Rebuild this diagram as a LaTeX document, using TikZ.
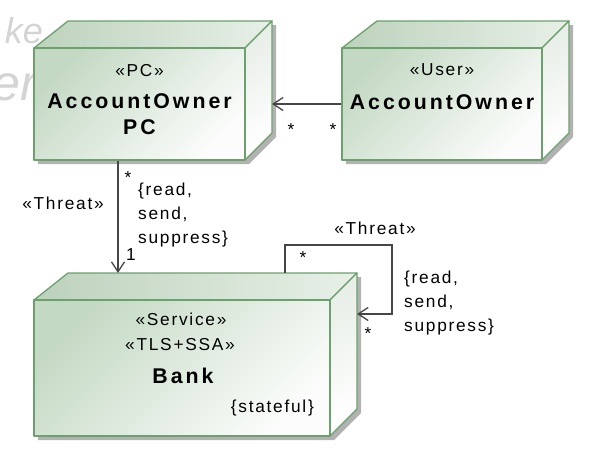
\documentclass[tikz,border=0pt]{standalone}
\usepackage{fontspec}
\setmainfont{Liberation Sans}
\newfontfamily\labfont[LetterSpace=10]{Liberation Sans}
\newfontfamily\namefont[LetterSpace=14]{Liberation Sans}
\newfontfamily\wmfont{Liberation Sans}
\usetikzlibrary{arrows.meta,calc}
\definecolor{nodeborder}{RGB}{108,160,108}
\definecolor{frontA}{RGB}{196,217,196}
\definecolor{frontB}{RGB}{251,252,251}
\definecolor{topA}{RGB}{188,210,188}
\definecolor{topB}{RGB}{232,240,232}
\definecolor{rightA}{RGB}{232,238,232}
\definecolor{rightB}{RGB}{255,255,255}
\definecolor{conncol}{RGB}{70,70,70}
\definecolor{shadowc}{RGB}{178,178,178}
\definecolor{wmcol}{RGB}{212,212,212}
\tikzset{
  face/.style={draw=nodeborder, line width=1.3pt, line join=round},
  frontshade/.style={top color=frontA, bottom color=frontB, shading angle=45},
  lbl/.style={inner sep=0pt, font=\labfont\fontsize{17.3}{24}\selectfont, text=black},
  nm/.style={inner sep=0pt, font=\namefont\bfseries\fontsize{21.3}{26}\selectfont, text=black},
  conn/.style={draw=conncol, line width=1.3pt},
  arr/.style={-{Straight Barb[length=10pt,width=13pt]}},
}
% #1 name, #2 x1, #3 y1, #4 x2, #5 y2, #6 left depth
\newcommand\deploybox[6]{%
  \fill[shadowc] ({#2+4},{#5+4}) -- ({#2+4},{#3+4}) -- ({#2+#6+4},{#3-23}) -- ({#4+31},{#3-23}) -- ({#4+31},{#5-23}) -- ({#4+4},{#5+4}) -- cycle;
  \draw[face, left color=topA, right color=topB] (#2,#3) -- ({#2+#6},{#3-27}) -- ({#4+27},{#3-27}) -- (#4,#3) -- cycle;
  \draw[face, top color=rightA, bottom color=rightB, shading angle=30] (#4,#3) -- ({#4+27},{#3-27}) -- ({#4+27},{#5-27}) -- (#4,#5) -- cycle;
  \node[face, frontshade, inner sep=0pt, minimum width={(#4-#2)*1pt}, minimum height={(#5-#3)*1pt}] (#1) at ({(#2+#4)/2},{(#3+#5)/2}) {};
  \coordinate (#1btr) at ({#4+27},{#3-27});
}
\begin{document}
\begin{tikzpicture}[x=1pt,y=-1pt]
\useasboundingbox (0,0) rectangle (590,456);
% watermark fragments
\node[inner sep=0pt, anchor=base east, font=\wmfont\itshape\fontsize{36}{36}\selectfont, text=wmcol] (wmA) at (43,43) {ke};
\node[inner sep=0pt, anchor=base east, font=\wmfont\itshape\fontsize{50}{50}\selectfont, text=wmcol] (wmB) at (37,100) {er};
% nodes
\deploybox{pc}{34}{48}{245}{160}{34}
\deploybox{user}{342}{48}{542}{160}{35}
\deploybox{bank}{34}{300}{330}{436}{34}
% node texts
\node[lbl, anchor=base] (pcst) at (139.5,76) {«PC»};
\node[nm, anchor=base] (pcn1) at (139.5,108) {AccountOwner};
\node[nm, anchor=base] (pcn2) at (139.5,134) {PC};
\node[lbl, anchor=base] (usst) at (442,75) {«User»};
\node[nm, anchor=base] (usn) at (442,109) {AccountOwner};
\node[lbl, anchor=base] (bkst1) at (181,325) {«Service»};
\node[lbl, anchor=base] (bkst2) at (180,350) {«TLS+SSA»};
\node[nm, anchor=base] (bkn) at (183,383) {Bank};
\node[lbl, anchor=base east] (bkc) at (314,412) {\{stateful\}};
% connector: user -> pc
\draw[conn, arr] (user.west) -- (user.west -| pcbtr);
\node[lbl, anchor=base] (m1) at (291,135) {*};
\node[lbl, anchor=base] (m2) at (333,135) {*};
% connector: pc -> bank
\coordinate (t1s) at ([xshift=-21.5pt]pc.south);
\draw[conn, arr] (t1s) -- (t1s |- bankbtr);
\node[lbl, anchor=base] (t1m1) at (128,183) {*};
\node[lbl, anchor=base] (t1m2) at (131,260) {1};
\node[lbl, anchor=base] (t1st) at (63,209) {«Threat»};
\node[lbl, anchor=base west, align=left] (t1c) at (138,243) {\{read,\\send,\\suppress\}};
% self loop on bank
\coordinate (t2s) at ([xshift=-72pt]bankbtr);
\coordinate (t2e) at ([yshift=-41pt]bankbtr);
\draw[conn, arr] (t2s) -- ++(0,-28) -- ++(107,0) |- (t2e);
\node[lbl, anchor=base] (t2m1) at (303,263) {*};
\node[lbl, anchor=base] (t2m2) at (368,339) {*};
\node[lbl, anchor=base] (t2st) at (375,234) {«Threat»};
\node[lbl, anchor=base west, align=left] (t2c) at (404,331) {\{read,\\send,\\suppress\}};
\end{tikzpicture}
\end{document}
